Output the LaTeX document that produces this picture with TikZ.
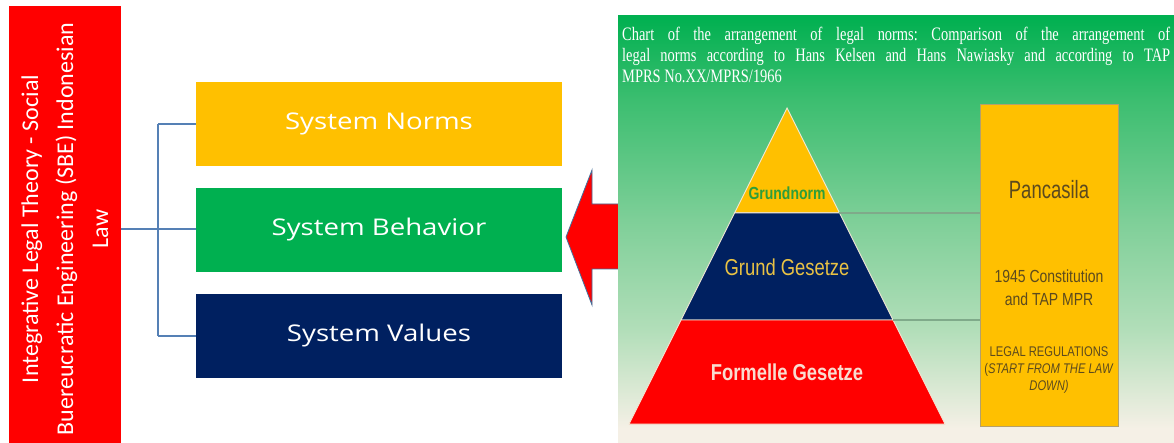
\documentclass[tikz,border=0pt]{standalone}
\usepackage{fontspec}
\usetikzlibrary{calc}
\setmainfont{Liberation Serif}
\newfontfamily\boxfont[FakeStretch=1.2]{Open Sans}
\newfontfamily\sidefont{Carlito}
\newfontfamily\titlefont[FakeStretch=0.76]{Liberation Serif}
\newfontfamily\pyrfont[FakeStretch=0.8]{Liberation Sans}
\newfontfamily\narrowfont[FakeStretch=0.74]{Liberation Sans}

\definecolor{sidered}{HTML}{FF0000}
\definecolor{normyellow}{HTML}{FFC000}
\definecolor{behgreen}{HTML}{00B050}
\definecolor{valnavy}{HTML}{002060}
\definecolor{linkblue}{HTML}{5580B5}
\definecolor{arrowedge}{HTML}{41719C}
\definecolor{gA}{HTML}{00B050}
\definecolor{gB}{HTML}{3CBE70}
\definecolor{gC}{HTML}{7ECF98}
\definecolor{gD}{HTML}{B2DEB9}
\definecolor{gE}{HTML}{F5F0E6}
\definecolor{guidegray}{HTML}{7FAA8A}
\definecolor{pyrline}{HTML}{F3E9D6}
\definecolor{normgreen}{HTML}{2E9E3A}
\definecolor{goldtext}{HTML}{E9C244}
\definecolor{peachtext}{HTML}{F9DCD0}
\definecolor{boxtext}{HTML}{5C4A1E}
\definecolor{boxedge}{HTML}{B5A06A}

\tikzset{
  sysbox/.style={minimum width=366pt, minimum height=84pt, inner sep=0pt,
    text=white, font=\boxfont\fontsize{23}{28}\selectfont},
  link/.style={draw=linkblue, line width=1.3pt},
  guide/.style={draw=guidegray, line width=1.3pt},
  band/.style={draw=pyrline, line width=0.9pt},
  ptext/.style={font=\pyrfont\fontsize{#1}{#1}\selectfont, inner sep=0pt},
  btext/.style={text=boxtext, align=center, inner sep=0pt},
  titleline/.style={anchor=base west, inner sep=0pt, text=white,
    font=\titlefont\fontsize{19}{21}\selectfont}
}

\begin{document}
\frenchspacing
\begin{tikzpicture}[x=1pt,y=-1pt]
\useasboundingbox (0,0) rectangle (1174,443);
\clip (0,0) rectangle (1174,443);
\fill[white] (0,0) rectangle (1174,443);

% side bar with rotated title
\node[fill=sidered, minimum width=112pt, minimum height=446pt, inner sep=0pt] (side) at (65,229) {};
\node[rotate=90, text=white, align=center, inner sep=0pt,
  font=\sidefont\fontsize{24}{35}\selectfont] (sidetext) at (side.center)
  {Integrative Legal Theory - Social\\Buereucratic Engineering (SBE) Indonesian\\Law};

% three system boxes
\node[sysbox, fill=normyellow] (norms) at (379,124) {System Norms};
\node[sysbox, fill=behgreen] (behavior) at (379,230) {System Behavior};
\node[sysbox, fill=valnavy] (values) at (379,336) {System Values};

% bracket connectors
\coordinate (hub) at (158,229);
\draw[link] (side.east |- hub) -- (hub -| behavior.west);
\draw[link] (hub |- norms.west) -- (hub |- values.west);
\draw[link] (hub |- norms.west) -- (norms.west);
\draw[link] (hub |- values.west) -- (values.west);

% block arrow pointing left
\filldraw[fill=sidered, draw=arrowedge, line width=0.8pt]
  (622,204) -- (592,204) -- (592,170) -- (566,237) -- (592,305) -- (592,269) -- (622,269) -- cycle;

% right panel background
\shade[top color=gA, bottom color=gB] (618,16) rectangle (1174,100.5);
\shade[top color=gB, bottom color=gC] (618,100) rectangle (1174,220.5);
\shade[top color=gC, bottom color=gD] (618,220) rectangle (1174,330.5);
\shade[top color=gD, bottom color=gE] (618,330) rectangle (1174,428.5);
\fill[gE] (618,428) rectangle (1174,443);

% panel title
\node[titleline] (t1) at (622,40.5) {\hbox to 548pt{\spaceskip=4pt plus 1fil\relax Chart of the arrangement of legal norms: Comparison of the arrangement of}};
\node[titleline] (t2) at (622,61.5) {\hbox to 548pt{\spaceskip=4pt plus 1fil\relax legal norms according to Hans Kelsen and Hans Nawiasky and according to TAP}};
\node[titleline] (t3) at (622,83) {MPRS No.XX/MPRS/1966};

% pyramid
\coordinate (apex) at (787,108);
\coordinate (bl) at (629,424);
\coordinate (br) at (945,424);
\coordinate (yl) at ($(apex)!0.332!(bl)$);
\coordinate (yr) at ($(apex)!0.332!(br)$);
\coordinate (nl) at ($(apex)!0.671!(bl)$);
\coordinate (nr) at ($(apex)!0.671!(br)$);
\filldraw[band, fill=normyellow] (apex) -- (yr) -- (yl) -- cycle;
\filldraw[band, fill=valnavy] (yl) -- (yr) -- (nr) -- (nl) -- cycle;
\filldraw[band, fill=sidered] (nl) -- (nr) -- (br) -- (bl) -- cycle;

\node[ptext=17.5, text=normgreen] (grundnorm) at (787,193) {\bfseries Grundnorm};
\node[ptext=23, text=goldtext] (grundges) at (787,267) {Grund Gesetze};
\node[ptext=23, text=peachtext] (formelle) at (787,372) {\bfseries Formelle Gesetze};

% box of Indonesian counterparts
\node[fill=normyellow, draw=boxedge, line width=0.8pt, minimum width=138pt,
  minimum height=322pt, inner sep=0pt] (pbox) at (1049,265) {};
\draw[guide] (yr) -- (yr -| pbox.west);
\draw[guide] (nr) -- (nr -| pbox.west);

\node[btext, font=\narrowfont\fontsize{25}{28}\selectfont] (pancasila) at (1049,190) {Pancasila};
\node[btext, font=\pyrfont\fontsize{17.5}{23}\selectfont] (constitution) at (1049,287.5) {1945 Constitution\\and TAP MPR};
\node[btext, font=\pyrfont\fontsize{14}{17}\selectfont] (regs) at (1049,370) {LEGAL REGULATIONS\\(\textit{START FROM THE LAW}\\\textit{DOWN)}};
\end{tikzpicture}
\end{document}
